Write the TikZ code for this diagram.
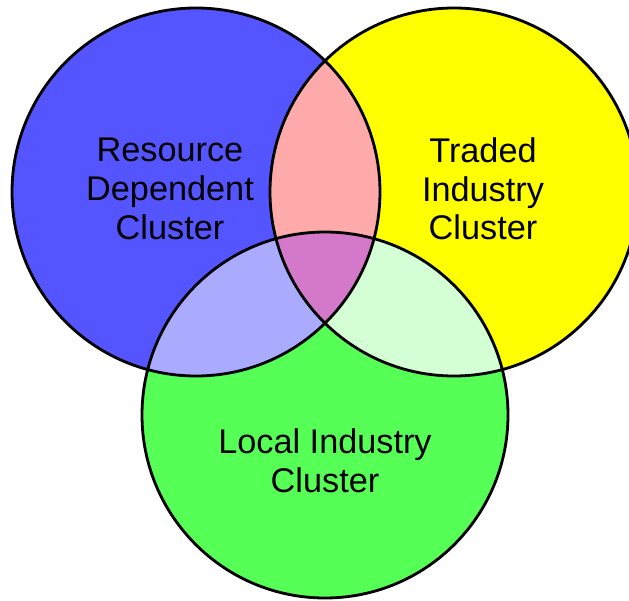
\documentclass[tikz,border=0pt]{standalone}
\usepackage{fontspec}
\setmainfont{Liberation Sans}
\definecolor{rdblue}{HTML}{5555FF}
\definecolor{tiyellow}{HTML}{FFFF00}
\definecolor{ligreen}{HTML}{55FF55}
\definecolor{rdti}{HTML}{FFAAAA}
\definecolor{rdli}{HTML}{AAAAFF}
\definecolor{tili}{HTML}{D4FFD4}
\definecolor{rdtili}{HTML}{D479C9}
% the three cluster sets
\def\rdset{(196,408) circle (184)}
\def\tiset{(454,408) circle (184)}
\def\liset{(325,185) circle (183)}
\tikzset{
x=0.02cm, y=0.02cm,
set border/.style={draw=black,line width=1.6pt},
set label/.style={align=center,font=\fontsize{19.5}{22}\selectfont},
}

\begin{document}
\begin{tikzpicture}
\useasboundingbox (0,0) rectangle (629,600);
\fill[rdblue] \rdset;
\fill[tiyellow] \tiset;
\fill[ligreen] \liset;
% pairwise overlaps
\begin{scope}
  \clip \rdset;
  \fill[rdti] \tiset;
  \fill[rdli] \liset;
\end{scope}
\begin{scope}
  \clip \tiset;
  \fill[tili] \liset;
\end{scope}
% all three
\begin{scope}
  \clip \rdset;
  \clip \tiset;
  \fill[rdtili] \liset;
\end{scope}
\draw[set border] \rdset \tiset \liset;
\node[set label] (rd) at (170,411) {Resource\\Dependent\\Cluster};
\node[set label] (ti) at (483,411) {Traded\\Industry\\Cluster};
\node[set label] (li) at (325,139) {Local Industry\\Cluster};
\end{tikzpicture}
\end{document}
